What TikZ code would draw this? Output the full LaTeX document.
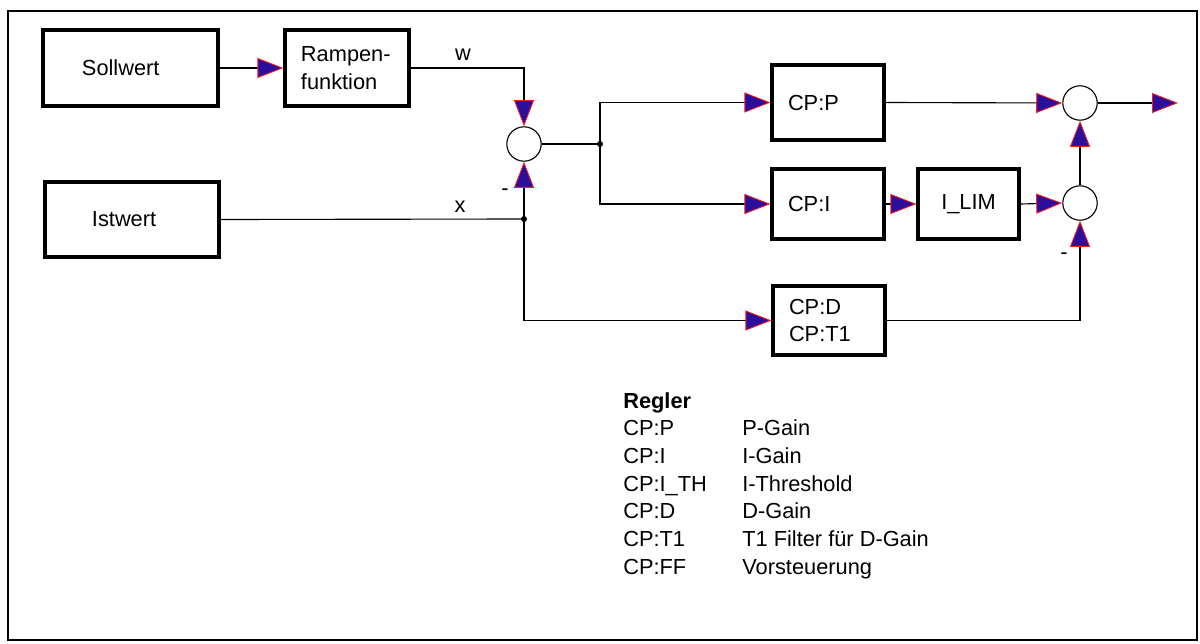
\documentclass[tikz,border=0pt]{standalone}
\usepackage{fontspec}
\setmainfont{Liberation Sans}
\definecolor{ArrBlue}{HTML}{2A0E9C}
\definecolor{ArrRed}{HTML}{FF1A1A}
\usetikzlibrary{arrows.meta, positioning}
\newcommand{\legrow}[2]{\makebox[2.975cm][l]{#1}#2}

\begin{document}
\begin{tikzpicture}[x=0.025cm, y=-0.025cm,
      font=\fontsize{15.5}{19.7}\selectfont,
      blk/.style={draw, line width=2.2pt, inner sep=0pt},
      cpbox/.style={blk, text width=2.0cm, inner xsep=0.4cm, align=left},
      sumpt/.style={circle, draw, line width=0.8pt, minimum size=0.86cm, inner sep=0pt},
      conn/.style={line width=0.8pt},
      arr/.style={conn, -{Triangle[length=6.5mm, width=5mm, fill=ArrBlue, color=ArrRed, line width=0.6pt]}},
      lbl/.style={inner sep=0pt}]
   \useasboundingbox (0,0) rectangle (1200,643);
   % frame
   \draw[line width=1.5pt] (8,11) rectangle (1197,640);
   % input blocks
   \node[blk, minimum height=1.9cm, text width=2.425cm, inner xsep=0.975cm, align=left] (soll) at (130.5,68) {Sollwert};
   \node[blk, minimum height=1.9cm, text width=2.3cm, inner xsep=0.4cm, align=left] (ramp) at (347,68) {Rampen-\\funktion};
   \node[blk, minimum height=1.875cm, text width=2.0cm, inner xsep=1.175cm, align=left] (ist) at (132,219.5) {Istwert};
   % controller blocks
   \node[cpbox, minimum height=1.875cm] (cpp) at (828,102.5) {CP:P};
   \node[cpbox, minimum height=1.75cm] (cpi) at (828,204) {CP:I};
   \node[blk, minimum width=2.525cm, minimum height=1.75cm] (ilim) at (968.5,204) {I\_LIM};
   \node[cpbox, minimum height=1.725cm] (cpd) at (829,320.5) {CP:D\\CP:T1};
   % summing points
   \node[sumpt] (sum1) at (524,144) {};
   \node[sumpt] (sum2) at (1080,103) {};
   \node[sumpt] (sum3) at (1080,203) {};
   \coordinate (dotx) at (524,219);
   \coordinate (dote) at (600,144);
   \coordinate (out) at (1178,103);
   % signals
   \draw[arr] (soll.east) -- (ramp.west);
   \draw[arr] (ramp.east) -| (sum1.north);
   \draw[conn] (ist.east) -- (dotx);
   \draw[arr] (dotx) -- (sum1.south);
   \draw[arr] (dotx) |- (cpd.west);
   \draw[conn] (sum1.east) -- (dote);
   \draw[arr] (dote) |- (cpp.west);
   \draw[arr] (dote) |- (cpi.west);
   \draw[arr] (cpp.east) -- (sum2.west);
   \draw[arr] (cpi.east) -- (ilim.west);
   \draw[arr] (ilim.east) -- (sum3.west);
   \draw[arr] (sum3.north) -- (sum2.south);
   \draw[arr] (cpd.east) -| (sum3.south);
   \draw[arr] (sum2.east) -- (out);
   \fill (dotx) circle (0.075cm);
   \fill (dote) circle (0.075cm);
   % labels
   \node[lbl] (wlbl) at (463,55) {w};
   \node[lbl] (xlbl) at (460,207) {x};
   \node[lbl] (neg1) at (505,192) {-};
   \node[lbl] (neg2) at (1064,256) {-};
   % legend
   \node[anchor=north west, inner sep=0pt, align=left] (legend) at (623,392) {\textbf{Regler}\\
      \legrow{CP:P}{P-Gain}\\
      \legrow{CP:I}{I-Gain}\\
      \legrow{CP:I\_TH}{I-Threshold}\\
      \legrow{CP:D}{D-Gain}\\
      \legrow{CP:T1}{T1 Filter für D-Gain}\\
      \legrow{CP:FF}{Vorsteuerung}};
\end{tikzpicture}
\end{document}
